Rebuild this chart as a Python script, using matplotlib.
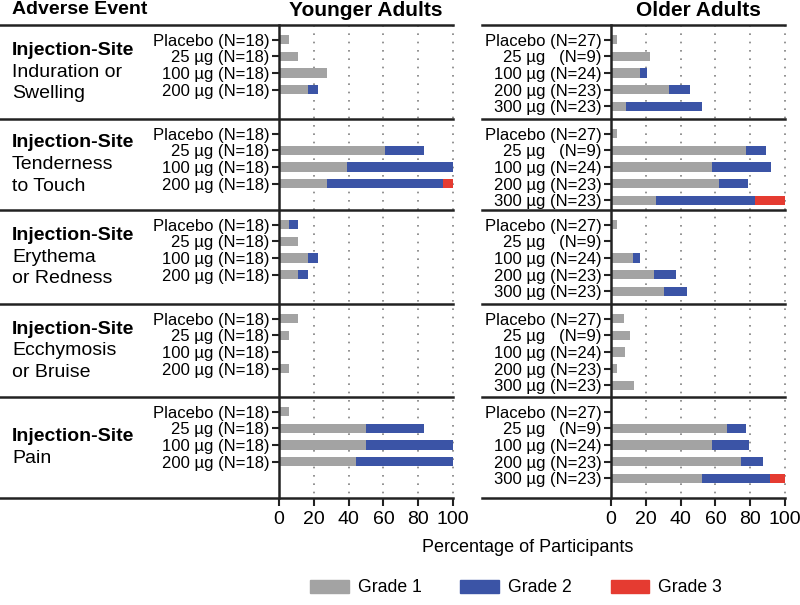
import matplotlib
matplotlib.use("Agg")
import matplotlib.pyplot as plt
import matplotlib.transforms as mtransforms
from matplotlib.patches import Patch

plt.rcParams['font.family'] = ['Liberation Sans', 'DejaVu Sans']

# adverse events (bold first line is the same for all)
event_names = ['Induration or\nSwelling', 'Tenderness\nto Touch', 'Erythema\nor Redness',
               'Ecchymosis\nor Bruise', 'Pain']

young_doses = ['Placebo (N=18)', '25 µg (N=18)', '100 µg (N=18)', '200 µg (N=18)']
old_doses = ['Placebo (N=27)', '25 µg   (N=9)', '100 µg (N=24)', '200 µg (N=23)', '300 µg (N=23)']

# percent of participants, one list per event
young_grade1 = [[5.6, 11.1, 27.8, 16.7], [0, 61.1, 38.9, 27.8], [5.6, 11.1, 16.7, 11.1],
                [11.1, 5.6, 0, 5.6], [5.6, 50.0, 50.0, 44.4]]
young_grade2 = [[0, 0, 0, 5.5], [0, 22.2, 61.1, 66.6], [5.5, 0, 5.5, 5.6],
                [0, 0, 0, 0], [0, 33.3, 50.0, 55.6]]
young_grade3 = [[0, 0, 0, 0], [0, 0, 0, 5.6], [0, 0, 0, 0],
                [0, 0, 0, 0], [0, 0, 0, 0]]

old_grade1 = [[3.7, 22.2, 16.7, 33.1, 8.7], [3.7, 77.8, 58.3, 62.3, 26.1], [3.7, 0, 12.5, 24.7, 30.4],
              [7.4, 11.1, 8.3, 3.6, 13.0], [0, 66.7, 58.3, 74.9, 52.2]]
old_grade2 = [[0, 0, 4.2, 12.3, 43.5], [0, 11.1, 33.4, 16.4, 56.5], [0, 0, 4.2, 12.7, 13.1],
              [0, 0, 0, 0, 0], [0, 11.1, 20.9, 12.5, 39.1]]
old_grade3 = [[0, 0, 0, 0, 0], [0, 0, 0, 0, 17.4], [0, 0, 0, 0, 0],
              [0, 0, 0, 0, 0], [0, 0, 0, 0, 8.7]]

grade_labels = ['Grade 1', 'Grade 2', 'Grade 3']
grade_colors = ['#a3a3a3', '#3b54a6', '#e53b31']

# layout in row units
group_edges = [0, 5.63, 11.08, 16.71, 22.28, 28.32]
row_offset = 0.87
bar_h = 0.55
line_col = '#222222'

W, H = 800, 605
fig = plt.figure(figsize=(8, 6.05), dpi=100)
ax_y = fig.add_axes([279 / W, 1 - 498 / H, 174 / W, 473 / H])
ax_o = fig.add_axes([611 / W, 1 - 498 / H, 174 / W, 473 / H])


def draw_panel(ax, doses, g1, g2, g3, sep_start):
    ticks, labels = [], []
    for g in range(len(event_names)):
        ys = [group_edges[g] + row_offset + i for i in range(len(doses))]
        a = g1[g]
        b = g2[g]
        c = g3[g]
        ax.barh(ys, a, height=bar_h, color=grade_colors[0], zorder=2)
        ax.barh(ys, b, left=a, height=bar_h, color=grade_colors[1], zorder=2)
        ax.barh(ys, c, left=[p + q for p, q in zip(a, b)], height=bar_h,
                color=grade_colors[2], zorder=2)
        ticks += ys
        labels += doses
    ax.set_yticks(ticks)
    ax.set_yticklabels(labels)
    ax.set_xlim(0, 100)
    ax.set_ylim(group_edges[-1], group_edges[0])
    ax.set_xticks([0, 20, 40, 60, 80, 100])
    ax.vlines([20, 40, 60, 80, 100], group_edges[0], group_edges[-1], colors='#808080',
              linestyles=(0, (1, 4)), lw=1.2, zorder=0, clip_on=False)
    trans = mtransforms.blended_transform_factory(ax.transAxes, ax.transData)
    for e in group_edges:
        ax.plot([sep_start, 1], [e, e], color=line_col, lw=1.8, transform=trans,
                clip_on=False, zorder=3)
    for s in ['top', 'right', 'bottom']:
        ax.spines[s].set_visible(False)
    ax.spines['left'].set_linewidth(1.8)
    ax.spines['left'].set_color(line_col)
    ax.tick_params(axis='y', length=5, width=1.5, pad=2, labelsize=12, color=line_col)
    ax.tick_params(axis='x', length=6, width=1.5, pad=3, labelsize=14, color=line_col)


draw_panel(ax_y, young_doses, young_grade1, young_grade2, young_grade3, -279 / 174)
draw_panel(ax_o, old_doses, old_grade1, old_grade2, old_grade3, (482 - 611) / 174)

# headers
fig.text(12 / W, 1 - 10 / H, 'Adverse Event', fontsize=14, fontweight='bold', va='center')
fig.text((279 + 87) / W, 1 - 10 / H, 'Younger Adults', fontsize=15, fontweight='bold',
         va='center', ha='center')
fig.text((611 + 87) / W, 1 - 10 / H, 'Older Adults', fontsize=15, fontweight='bold',
         va='center', ha='center')

# event labels on the left
lab_trans = mtransforms.blended_transform_factory(fig.transFigure, ax_y.transData)
line_step = 1.29
for g, name in enumerate(event_names):
    lines = ['Injection-Site'] + name.split('\n')
    mid = (group_edges[g] + group_edges[g + 1]) / 2
    for k, txt in enumerate(lines):
        y = mid + (k - (len(lines) - 1) / 2) * line_step
        fig.text(12 / W, y, txt, transform=lab_trans, fontsize=14, va='center',
                 fontweight='bold' if k == 0 else 'normal')

fig.text(528 / W, 1 - 547 / H, 'Percentage of Participants', fontsize=13, ha='center', va='center')

handles = [Patch(color=c, label=l) for c, l in zip(grade_colors, grade_labels)]
fig.legend(handles=handles, loc='center', bbox_to_anchor=(516 / W, 1 - 588 / H), ncol=3,
           frameon=False, fontsize=12.7, handlelength=2.2, handleheight=0.7,
           handletextpad=0.5, columnspacing=2.2)

fig.savefig('out.png', dpi=100)
